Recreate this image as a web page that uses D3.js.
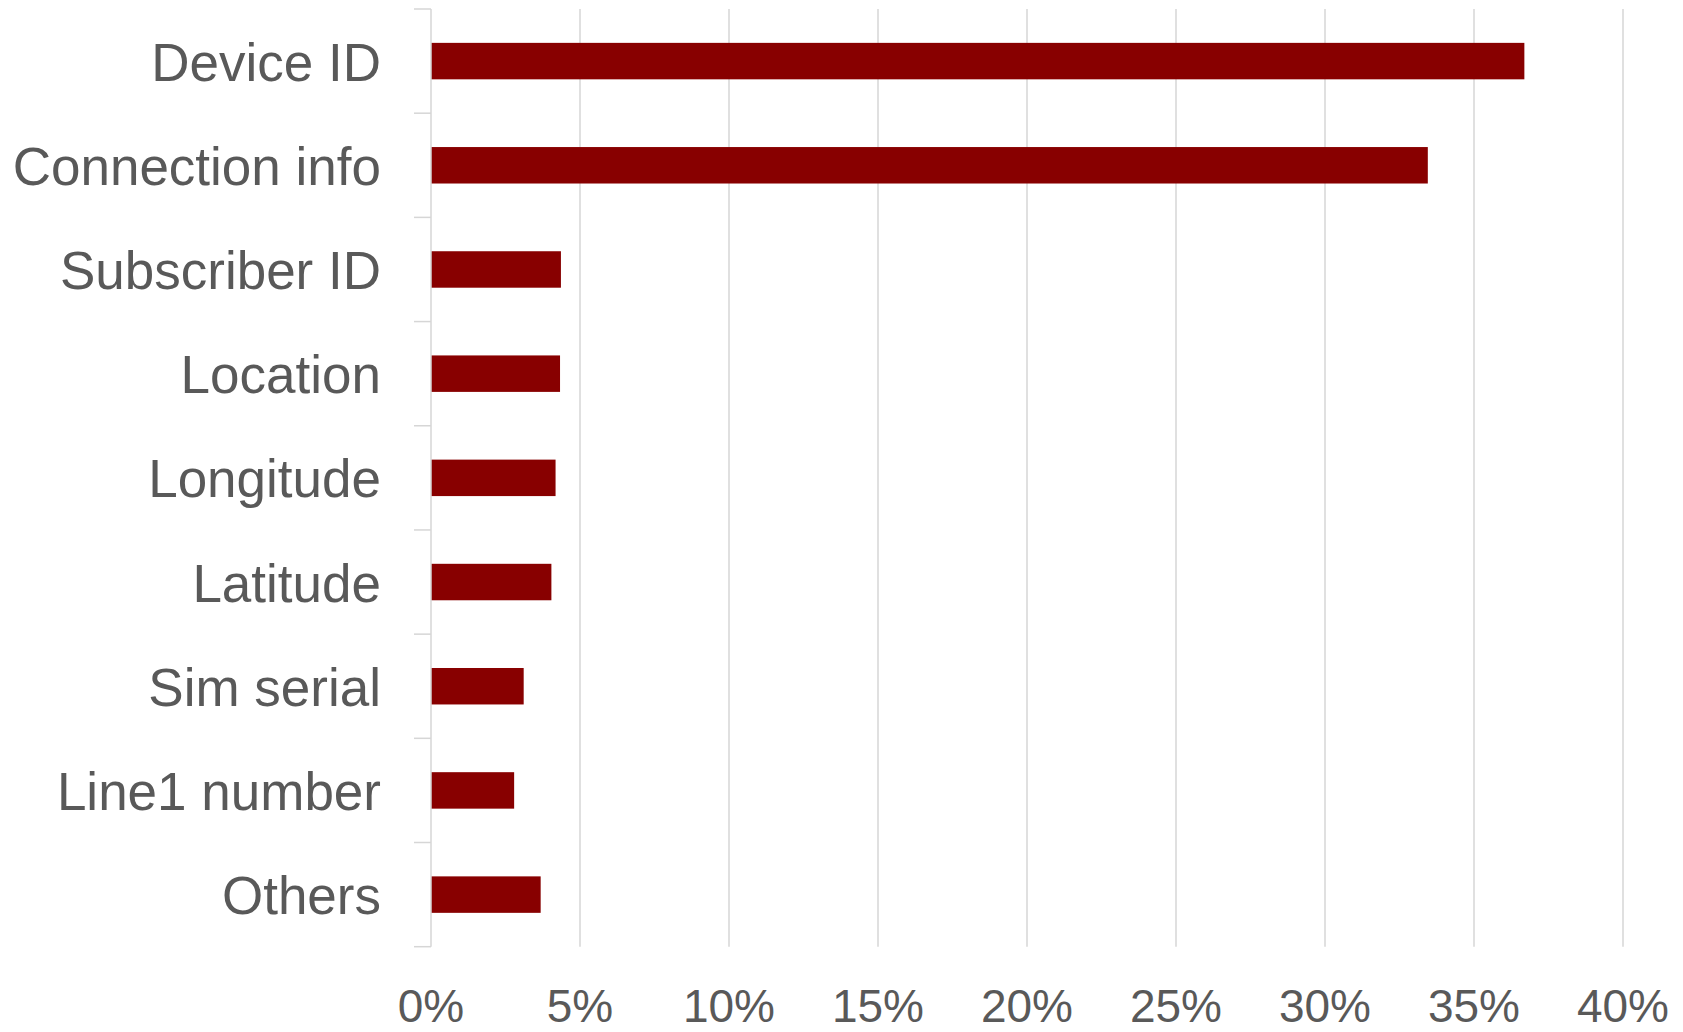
<!DOCTYPE html>
<html lang="en">
<head>
  <meta charset="UTF-8">
  <title>Data types horizontal bar chart</title>
  <script src="https://cdnjs.cloudflare.com/ajax/libs/d3/7.8.5/d3.min.js"></script>
  <style>
    html, body { margin: 0; padding: 0; background: #fff; }
    svg text { font-family: "Liberation Sans", Arial, Helvetica, sans-serif; fill: #595959; }
  </style>
</head>
<body>
  <div id="chart"></div>
  <script>
    // data
    const categories = ["Device ID", "Connection info", "Subscriber ID", "Location", "Longitude",
                        "Latitude", "Sim serial", "Line1 number", "Others"];
    const values = [36.69, 33.45, 4.36, 4.33, 4.18, 4.04, 3.11, 2.79, 3.68];
    const xTicks = [0, 5, 10, 15, 20, 25, 30, 35, 40];

    const W = 1683, H = 1032;
    const margin = {top: 9, right: 60, bottom: 85, left: 431};
    const plotW = 1623 - margin.left;
    const plotH = 946.7 - margin.top;
    const grid = "#d6d6d6";

    const svg = d3.select("#chart").append("svg")
      .attr("width", W)
      .attr("height", H);

    const g = svg.append("g")
      .attr("transform", `translate(${margin.left},${margin.top})`);

    const x = d3.scaleLinear().domain([0, 40]).range([0, plotW]);
    const y = d3.scaleBand().domain(categories).range([0, plotH]).paddingInner(0.65).paddingOuter(0.325);

    // vertical gridlines
    g.selectAll(".grid")
      .data(xTicks.slice(1))
      .enter().append("line")
      .attr("x1", d => x(d)).attr("x2", d => x(d))
      .attr("y1", 0).attr("y2", plotH)
      .attr("stroke", grid)
      .attr("stroke-width", 1.5);

    // x tick labels
    g.selectAll(".xlab")
      .data(xTicks)
      .enter().append("text")
      .attr("x", d => x(d))
      .attr("y", 1021.5 - margin.top)
      .attr("text-anchor", "middle")
      .style("font-size", "46px")
      .text(d => d + "%");

    // bars
    g.selectAll(".bar")
      .data(categories)
      .enter().append("rect")
      .attr("x", 0)
      .attr("y", d => y(d))
      .attr("width", (d, i) => x(values[i]))
      .attr("height", y.bandwidth())
      .attr("fill", "#880000");

    // category axis line + boundary ticks
    g.append("line")
      .attr("x1", 0).attr("x2", 0)
      .attr("y1", 0).attr("y2", plotH)
      .attr("stroke", grid)
      .attr("stroke-width", 1.5);

    const bounds = d3.range(categories.length + 1).map(i => i * y.step());
    g.selectAll(".ytick")
      .data(bounds)
      .enter().append("line")
      .attr("x1", -17).attr("x2", 0)
      .attr("y1", d => d).attr("y2", d => d)
      .attr("stroke", grid)
      .attr("stroke-width", 1.5);

    // category labels
    g.selectAll(".ylab")
      .data(categories)
      .enter().append("text")
      .attr("x", -50)
      .attr("y", d => y(d) + y.bandwidth() / 2)
      .attr("dy", "0.37em")
      .attr("text-anchor", "end")
      .style("font-size", "53px")
      .text(d => d);
  </script>
</body>
</html>
